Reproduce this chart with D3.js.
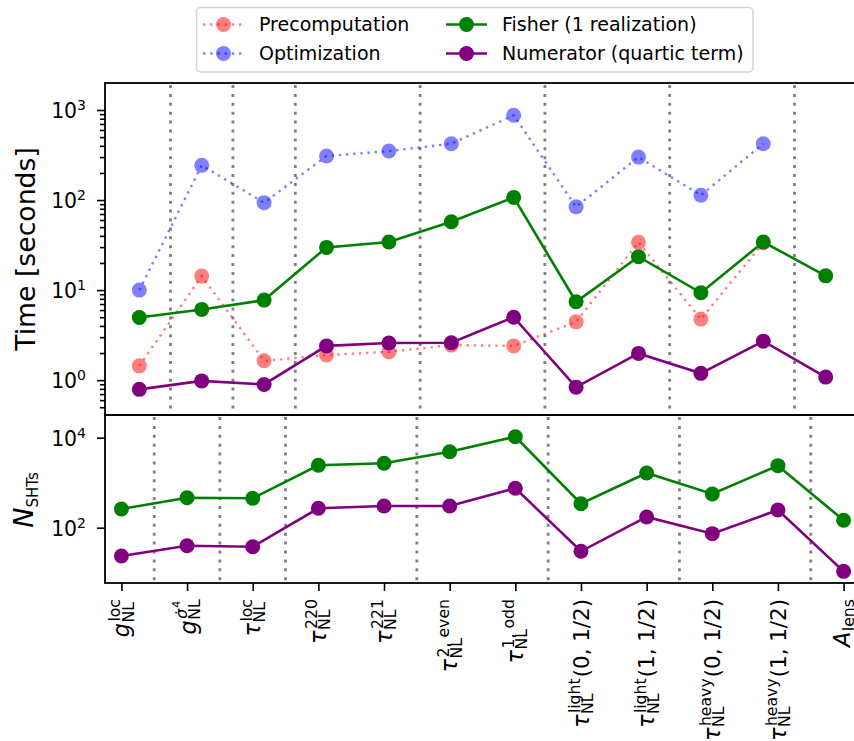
<!DOCTYPE html>
<html>
<head>
<meta charset="utf-8">
<script src="https://cdn.jsdelivr.net/npm/d3@7"></script>
<style>
  body { margin: 0; background: #fff; }
  svg { font-family: "DejaVu Sans", sans-serif; }
</style>
</head>
<body>
<svg width="854" height="741"></svg>
<script>
var svg = d3.select('svg');

// x tick labels, split into base symbol / superscript / subscript / trailing text
var tickBase = ["g", "g", "τ", "τ", "τ", "τ", "τ", "τ", "τ", "τ", "τ", "A"];
var tickSup = ["loc", "σ̇^4", "loc", "220", "221", "2, even", "1, odd", "light", "light", "heavy", "heavy", ""];
var tickSub = ["NL", "NL", "NL", "NL", "NL", "NL", "NL", "NL", "NL", "NL", "NL", "lens"];
var tickSuffix = ["", "", "", "", "", "", "", "(0, 1/2)", "(1, 1/2)", "(0, 1/2)", "(1, 1/2)", ""];

// time in seconds (top panel)
var precomputation = [1.44, 14.3, 1.64, 1.9, 2.06, 2.45, 2.4, 4.44, 33.9, 4.76, 33.5, null];
var optimization = [10, 243, 93.5, 308, 350, 422, 873, 84, 300, 113, 422, null];
var fisherTime = [4.97, 6.1, 7.74, 29.8, 34.2, 57.4, 107, 7.42, 23.5, 9.34, 34.2, 14.4];
var numeratorTime = [0.79, 0.98, 0.896, 2.4, 2.58, 2.6, 5.0, 0.836, 1.98, 1.19, 2.71, 1.08];

// number of SHTs (bottom panel)
var fisherSHT = [261, 464, 450, 2440, 2700, 4880, 10500, 341, 1645, 561, 2390, 146];
var numeratorSHT = [23.5, 39.8, 37.8, 270, 303, 303, 752, 29.9, 173, 73.6, 247, 10.7];

var dividerPos = [0.5, 1.5, 2.5, 4.5, 6.5, 8.5, 10.5];
var legendNames = ["Precomputation", "Optimization", "Fisher (1 realization)", "Numerator (quartic term)"];
var colors = ["red", "blue", "green", "purple"];

var tickFont = 20.4;

var xTop = d3.scaleLinear().domain([-0.55, 11.55]).range([105, 860]);
var xBot = d3.scaleLinear().domain([-0.25, 11.25]).range([105, 860]);
var yTop = d3.scaleLog().domain([0.41, 1995]).range([415, 83]);
var yBot = d3.scaleLog().domain([5.9, 31900]).range([583, 415]);

// vertical dotted separators
function drawDividers(x, y) {
  svg.append('g')
    .selectAll('line')
    .data(dividerPos)
    .join('line')
      .attr('x1', d => x(d)).attr('x2', d => x(d))
      .attr('y1', y.range()[1] + 2).attr('y2', y.range()[0])
      .attr('stroke', '#808080')
      .attr('stroke-width', 2.8)
      .attr('stroke-dasharray', '3,5.9');
}

function drawSeries(x, y, vals, color, dotted) {
  var pts = vals.map((v, i) => ({ i: i, v: v })).filter(d => d.v != null);
  var line = d3.line().x(d => x(d.i)).y(d => y(d.v));
  var g = svg.append('g');
  g.append('path')
    .datum(pts)
    .attr('d', line)
    .attr('fill', 'none')
    .attr('stroke', color)
    .attr('stroke-opacity', dotted ? 0.5 : 1)
    .attr('stroke-width', dotted ? 2.4 : 2.6)
    .attr('stroke-dasharray', dotted ? '2.4,4.8' : null);
  g.selectAll('circle')
    .data(pts)
    .join('circle')
      .attr('cx', d => x(d.i))
      .attr('cy', d => y(d.v))
      .attr('r', 7.5)
      .attr('fill', color)
      .attr('fill-opacity', dotted ? 0.5 : 1);
}

// y axis with 10^n labels
function logAxis(y, majors, minors) {
  var g = svg.append('g').attr('transform', 'translate(105,0)');
  var minorG = g.append('g')
    .call(d3.axisLeft(y).tickValues(minors).tickSize(5).tickFormat(() => ''));
  minorG.selectAll('.tick text').remove();
  var majorG = g.append('g')
    .call(d3.axisLeft(y).tickValues(majors).tickSize(8).tickPadding(11));
  g.selectAll('path.domain').remove();
  g.selectAll('line').attr('stroke', '#000').attr('stroke-width', 1.6);
  majorG.selectAll('.tick text').each(function (d) {
    var t = d3.select(this);
    var e = Math.round(Math.log10(d));
    t.text('').attr('dy', null).attr('y', 7.4)
      .attr('fill', '#000')
      .style('font-family', '"DejaVu Sans", sans-serif')
      .style('font-size', tickFont + 'px');
    t.append('tspan').text('10');
    t.append('tspan').attr('dy', -8).style('font-size', '14px').text(e);
  });
}

var minorTop = [];
[0.1, 1, 10, 100, 1000].forEach(function (b) {
  for (var k = 2; k <= 9; k++) {
    var v = b * k;
    if (v >= 0.41 && v <= 1995) minorTop.push(v);
  }
});

////////////////////////////// TOP PANEL //////////////////////////////
drawDividers(xTop, yTop);
drawSeries(xTop, yTop, precomputation, colors[0], true);
drawSeries(xTop, yTop, optimization, colors[1], true);
drawSeries(xTop, yTop, fisherTime, colors[2], false);
drawSeries(xTop, yTop, numeratorTime, colors[3], false);
logAxis(yTop, [1, 10, 100, 1000], minorTop);

////////////////////////////// BOTTOM PANEL //////////////////////////////
drawDividers(xBot, yBot);
drawSeries(xBot, yBot, fisherSHT, colors[2], false);
drawSeries(xBot, yBot, numeratorSHT, colors[3], false);
logAxis(yBot, [100, 10000], []);

// frames
[[83, 415], [415, 583]].forEach(function (p) {
  svg.append('rect')
    .attr('x', 105).attr('y', p[0])
    .attr('width', 755).attr('height', p[1] - p[0])
    .attr('fill', 'none').attr('stroke', '#000').attr('stroke-width', 1.8);
});

// bottom x axis ticks
var xAxisG = svg.append('g')
  .attr('transform', 'translate(0,583)')
  .call(d3.axisBottom(xBot).tickValues(d3.range(12)).tickSize(8).tickFormat(() => ''));
xAxisG.select('path.domain').remove();
xAxisG.selectAll('.tick text').remove();
xAxisG.selectAll('line').attr('stroke', '#000').attr('stroke-width', 1.6);

// rotated math-like tick labels
function isGreek(s) { return /[α-ω]/.test(s); }

d3.range(12).forEach(function (i) {
  var outer = svg.append('g')
    .attr('transform', 'translate(' + xBot(i) + ',599) rotate(-90)');
  var g = outer.append('g');
  var F = 22.4, s = 15.7;
  var x = 0;
  var b = g.append('text').attr('x', 0).attr('y', 0)
    .style('font-size', F + 'px').style('font-style', 'italic').text(tickBase[i]);
  x += b.node().getComputedTextLength() + 0.5;
  var colW = 0;
  if (tickSup[i]) {
    var parts = tickSup[i].split('^');
    var sp = g.append('text').attr('x', x + 1).attr('y', -8.8)
      .style('font-size', s + 'px')
      .style('font-style', isGreek(parts[0]) ? 'italic' : 'normal')
      .text(parts[0]);
    var w = sp.node().getComputedTextLength() + 1;
    if (parts[1]) {
      var sp2 = g.append('text').attr('x', x + 1 + w).attr('y', -15.5)
        .style('font-size', '11px').text(parts[1]);
      w += sp2.node().getComputedTextLength();
    }
    colW = Math.max(colW, w);
  }
  if (tickSub[i]) {
    var sb = g.append('text').attr('x', x).attr('y', 4.4)
      .style('font-size', s + 'px').text(tickSub[i]);
    colW = Math.max(colW, sb.node().getComputedTextLength());
  }
  x += colW + 1;
  if (tickSuffix[i]) {
    g.append('text').attr('x', x).attr('y', 0)
      .style('font-size', (F - 1) + 'px').text(tickSuffix[i]);
  }
  var bb = g.node().getBBox();
  g.attr('transform', 'translate(' + (-(bb.x + bb.width)) + ',' + (-(bb.y + bb.height / 2)) + ')');
});

// y labels
svg.append('text')
  .attr('transform', 'translate(35,249) rotate(-90)')
  .attr('text-anchor', 'middle')
  .style('font-size', '26.7px')
  .text('Time [seconds]');

var nLab = svg.append('text')
  .attr('transform', 'translate(33,500) rotate(-90)')
  .attr('text-anchor', 'middle')
  .style('font-size', '27px');
nLab.append('tspan').style('font-style', 'italic').text('N');
nLab.append('tspan').attr('dy', 5.3).style('font-size', '15px').text('SHTs');

// legend
var legend = svg.append('g');
legend.append('rect')
  .attr('x', 196.5).attr('y', 7.5).attr('width', 556.5).attr('height', 64.5)
  .attr('rx', 4)
  .attr('fill', '#fff').attr('stroke', '#d5d5d5').attr('stroke-width', 1.5);

var legendX = [203, 203, 446, 446];
var legendY = [24.5, 53.5, 24.5, 53.5];
legendNames.forEach(function (name, k) {
  var dotted = k < 2;
  var lg = legend.append('g');
  lg.append('line')
    .attr('x1', legendX[k]).attr('x2', legendX[k] + 41)
    .attr('y1', legendY[k]).attr('y2', legendY[k])
    .attr('stroke', colors[k])
    .attr('stroke-opacity', dotted ? 0.5 : 1)
    .attr('stroke-width', dotted ? 2.4 : 2.6)
    .attr('stroke-dasharray', dotted ? '2.4,4.8' : null);
  lg.append('circle')
    .attr('cx', legendX[k] + 20.5).attr('cy', legendY[k]).attr('r', 7.5)
    .attr('fill', colors[k]).attr('fill-opacity', dotted ? 0.5 : 1);
  lg.append('text')
    .attr('x', legendX[k] + 56).attr('y', legendY[k] + 6.8)
    .style('font-size', '19px')
    .text(name);
});
</script>
</body>
</html>
